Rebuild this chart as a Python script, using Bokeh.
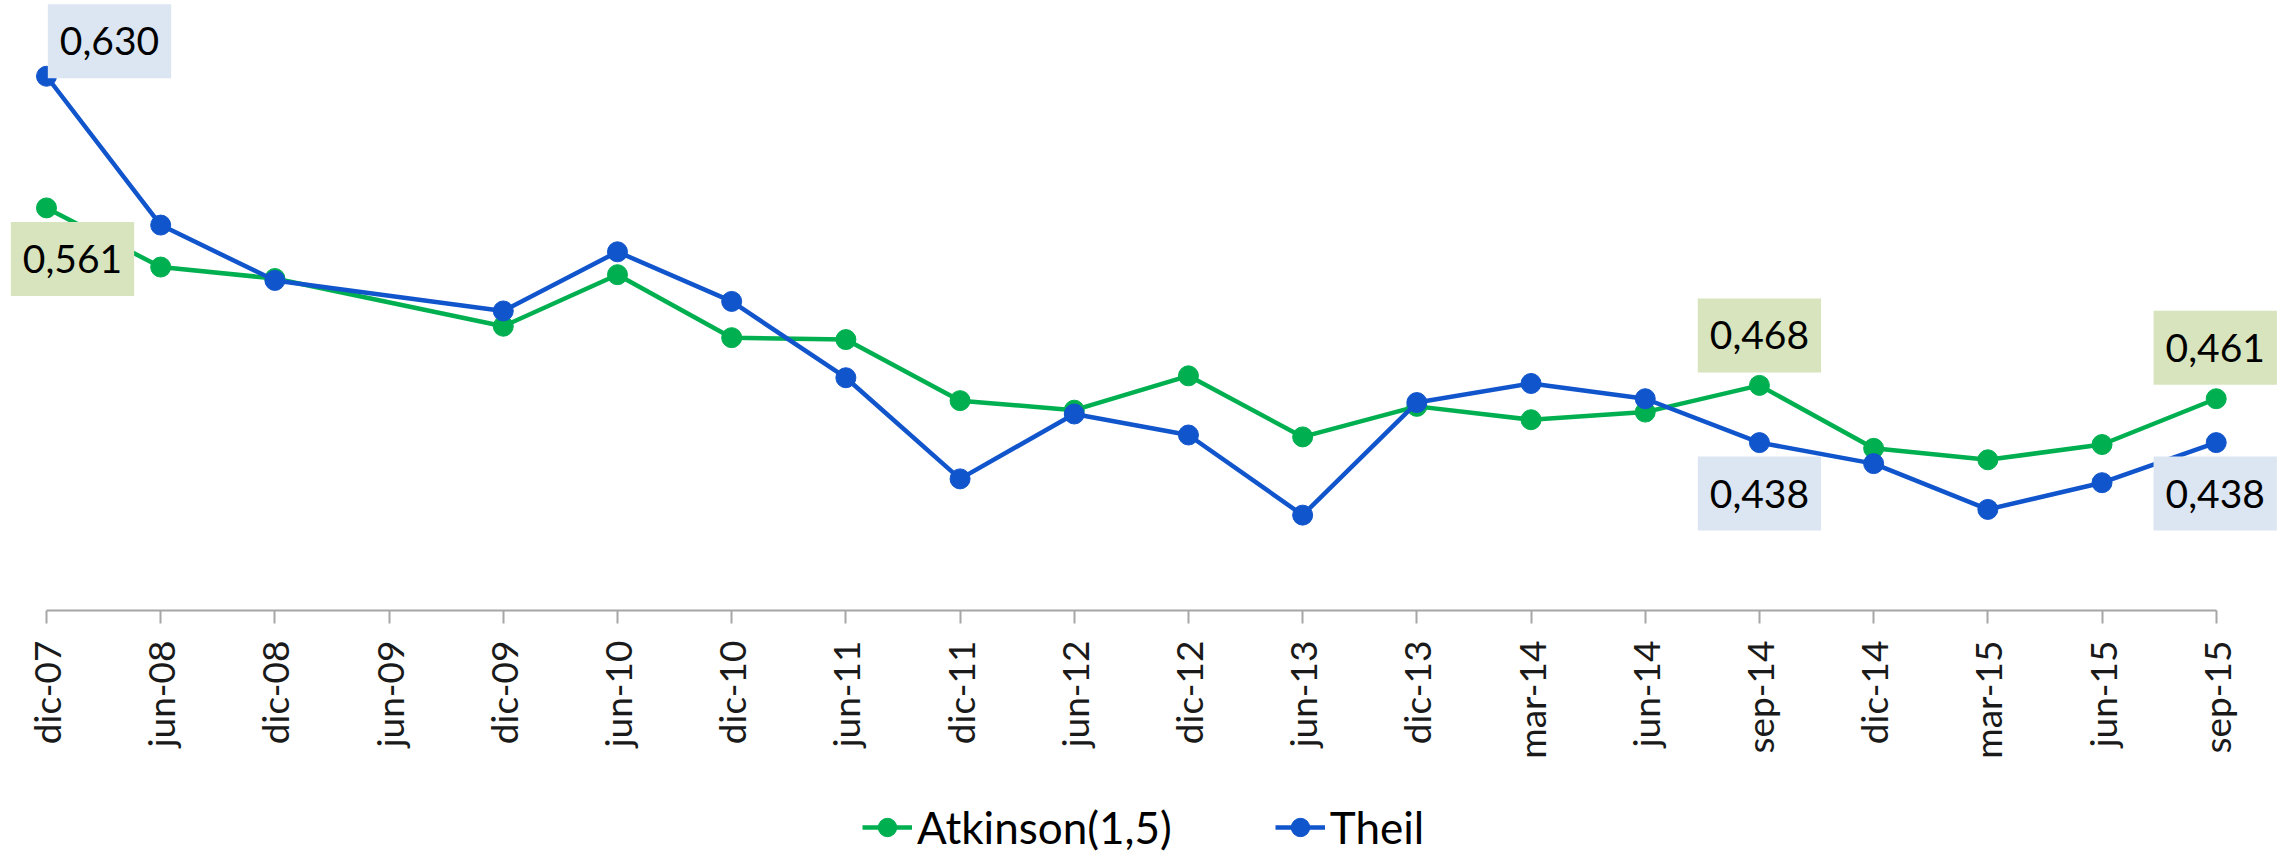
import math
from bokeh.plotting import figure
from bokeh.models import Range1d, FixedTicker, Label, Legend, LegendItem
from bokeh.embed import file_html
from bokeh.resources import INLINE

# ---------------- data ----------------
categories = ["dic-07", "jun-08", "dic-08", "jun-09", "dic-09", "jun-10", "dic-10",
              "jun-11", "dic-11", "jun-12", "dic-12", "jun-13", "dic-13", "mar-14",
              "jun-14", "sep-14", "dic-14", "mar-15", "jun-15", "sep-15"]
atkinson = [0.561, 0.530, 0.524, None, 0.499, 0.526, 0.493, 0.492, 0.460, 0.455,
            0.473, 0.441, 0.457, 0.450, 0.454, 0.468, 0.435, 0.429, 0.437, 0.461]
theil = [0.630, 0.552, 0.523, None, 0.507, 0.538, 0.512, 0.472, 0.419, 0.453,
         0.442, 0.400, 0.459, 0.469, 0.461, 0.438, 0.427, 0.403, 0.417, 0.438]
series_names = ["Atkinson(1,5)", "Theil"]
labelled_idx = [0, 15, 19]
axis_min = 0.35

# ---------------- style ----------------
GREEN = "#00B050"
BLUE = "#1155CC"
GREEN_BOX = "#D7E4BD"
BLUE_BOX = "#DCE6F2"
FONT = "Lato"

p = figure(width=2296, height=856,
           x_range=Range1d(-0.4028, 19.703), y_range=Range1d(0.2211, 0.6697),
           output_backend="svg", toolbar_location=None, y_axis_location=None,
           min_border_left=0, min_border_right=0, min_border_top=0,
           min_border_bottom=0)
p.outline_line_color = None
p.grid.visible = False
p.background_fill_color = "white"
p.border_fill_color = "white"

ax = p.xaxis[0]
ax.fixed_location = axis_min
ax.ticker = FixedTicker(ticks=list(range(len(categories))))
ax.major_label_overrides = {i: c for i, c in enumerate(categories)}
ax.bounds = (0, len(categories) - 1)
ax.major_label_orientation = math.pi / 2
ax.major_tick_out = 13
ax.major_tick_in = 0
ax.minor_tick_line_color = None
ax.axis_line_color = "#A6A6A6"
ax.axis_line_width = 2
ax.major_tick_line_color = "#A6A6A6"
ax.major_tick_line_width = 2
ax.major_label_standoff = 17
ax.major_label_text_font = FONT
ax.major_label_text_font_size = "37px"
ax.major_label_text_color = "#1a1a1a"


def pts(vals):
    xs = [i for i, v in enumerate(vals) if v is not None]
    ys = [v for v in vals if v is not None]
    return xs, ys


renderers = []
for vals, col in ((atkinson, GREEN), (theil, BLUE)):
    xs, ys = pts(vals)
    ln = p.line(xs, ys, line_color=col, line_width=4.5)
    sc = p.scatter(xs, ys, size=20, fill_color=col, line_color=col)
    renderers.append([ln, sc])

# data labels (offsets in screen px)
offsets = {
    ("t", 0): (63, 35), ("a", 0): (26, -51),
    ("a", 15): (0, 50), ("t", 15): (0, -51),
    ("a", 19): (-1, 51), ("t", 19): (-1, -51),
}
for key, vals, box in (("a", atkinson, GREEN_BOX), ("t", theil, BLUE_BOX)):
    for i in labelled_idx:
        v = vals[i]
        dx, dy = offsets[(key, i)]
        p.add_layout(Label(x=i, y=v, x_offset=dx, y_offset=dy,
                           text=f"{v:.3f}".replace(".", ","),
                           text_align="center", text_baseline="middle",
                           text_font=FONT, text_font_size="39px", text_color="black",
                           background_fill_color=box, padding=(12, 23)))

legend = Legend(items=[LegendItem(label=series_names[0], renderers=renderers[0]),
                       LegendItem(label=series_names[1], renderers=renderers[1])],
                orientation="horizontal", location=(862, 3),
                glyph_width=50, glyph_height=46, label_height=46,
                label_standoff=5, spacing=103,
                label_text_font=FONT, label_text_font_size="44px",
                label_text_color="black",
                border_line_color=None, background_fill_alpha=0,
                padding=0, margin=0)
p.add_layout(legend)

open("out.html", "w").write(file_html(p, INLINE))
